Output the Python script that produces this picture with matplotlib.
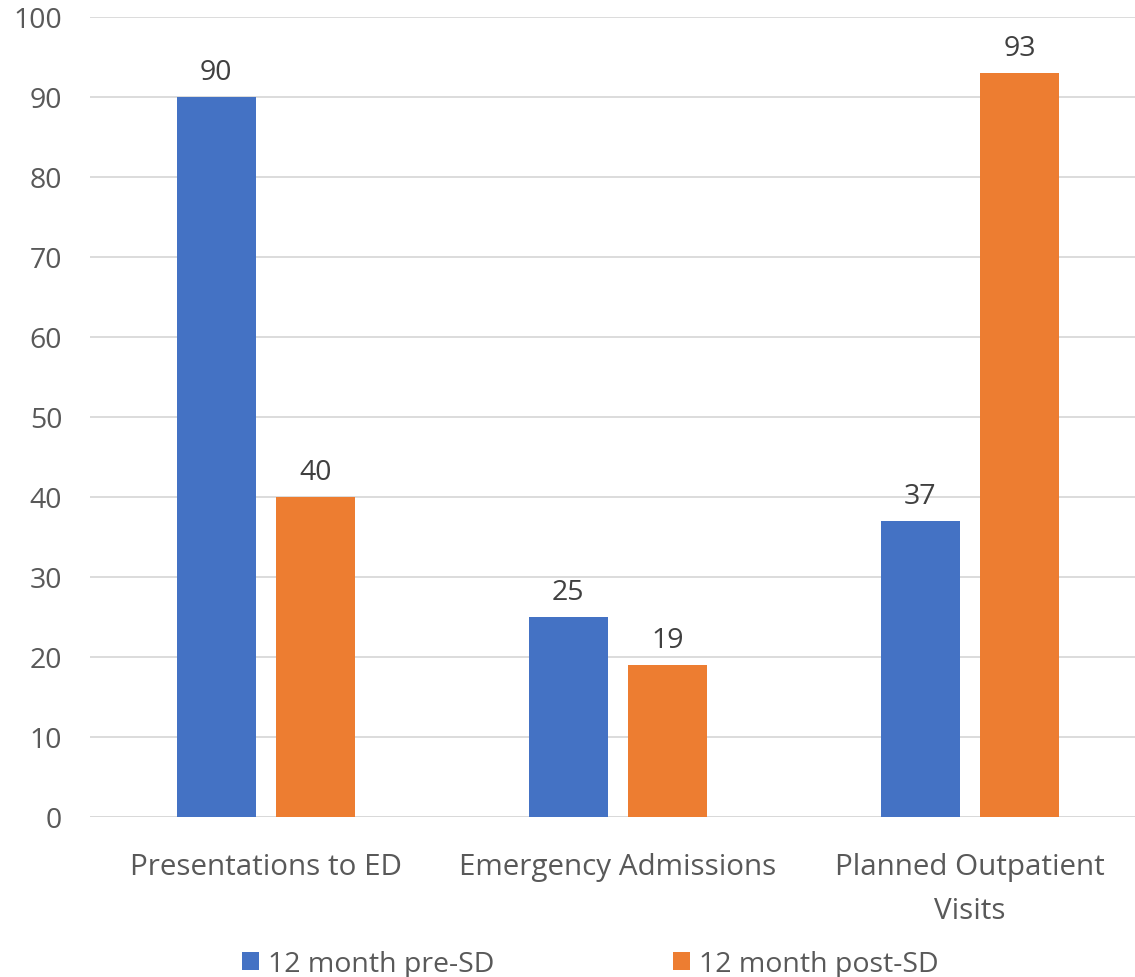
import numpy as np
import matplotlib.pyplot as plt

categories = ["Presentations to ED", "Emergency Admissions", "Planned Outpatient\nVisits"]
pre_sd = [90, 25, 37]
post_sd = [40, 19, 93]
series_names = ["12 month pre-SD", "12 month post-SD"]
yticks = [0, 10, 20, 30, 40, 50, 60, 70, 80, 90, 100]

plt.rcParams['font.family'] = ['Open Sans', 'DejaVu Sans']

W, H = 1135, 978
fig = plt.figure(figsize=(W / 100, H / 100), dpi=100)
ax = fig.add_axes([90 / W, (H - 818) / H, 1056 / W, 800 / H])

x = np.arange(len(categories))
bw = 0.224
off = 0.141
blue = "#4472C4"
orange = "#ED7D31"
fs = 20.5
b1 = ax.bar(x - off, pre_sd, bw, color=blue, label=series_names[0], zorder=3)
b2 = ax.bar(x + off, post_sd, bw, color=orange, label=series_names[1], zorder=3)

for bars in (b1, b2):
    ax.bar_label(bars, padding=8, fontsize=fs, color="#404040")

ax.set_xlim(-0.5, 2.5)
ax.set_ylim(0, 100)
ax.set_yticks(yticks)
ax.yaxis.grid(True, color="#D9D9D9", linewidth=1.3, zorder=0)
for s in ax.spines.values():
    s.set_visible(False)
ax.axhline(0, color="#D9D9D9", linewidth=1.3, zorder=1)
ax.tick_params(axis='both', length=0, labelsize=fs, labelcolor="#595959")
ax.tick_params(axis='y', pad=20)
ax.tick_params(axis='x', pad=25)
ax.set_xticks(x)
ax.set_xticklabels(categories, linespacing=1.7, fontsize=21.3)

fig.legend(handles=[b1, b2], labels=series_names, loc='center',
           bbox_to_anchor=(0.52, 1 - 965 / H), ncol=2, frameon=False,
           fontsize=fs, labelcolor="#595959", handlelength=0.6, handleheight=0.6,
           columnspacing=6.3, handletextpad=0.3)

fig.savefig("out.png", dpi=100)
